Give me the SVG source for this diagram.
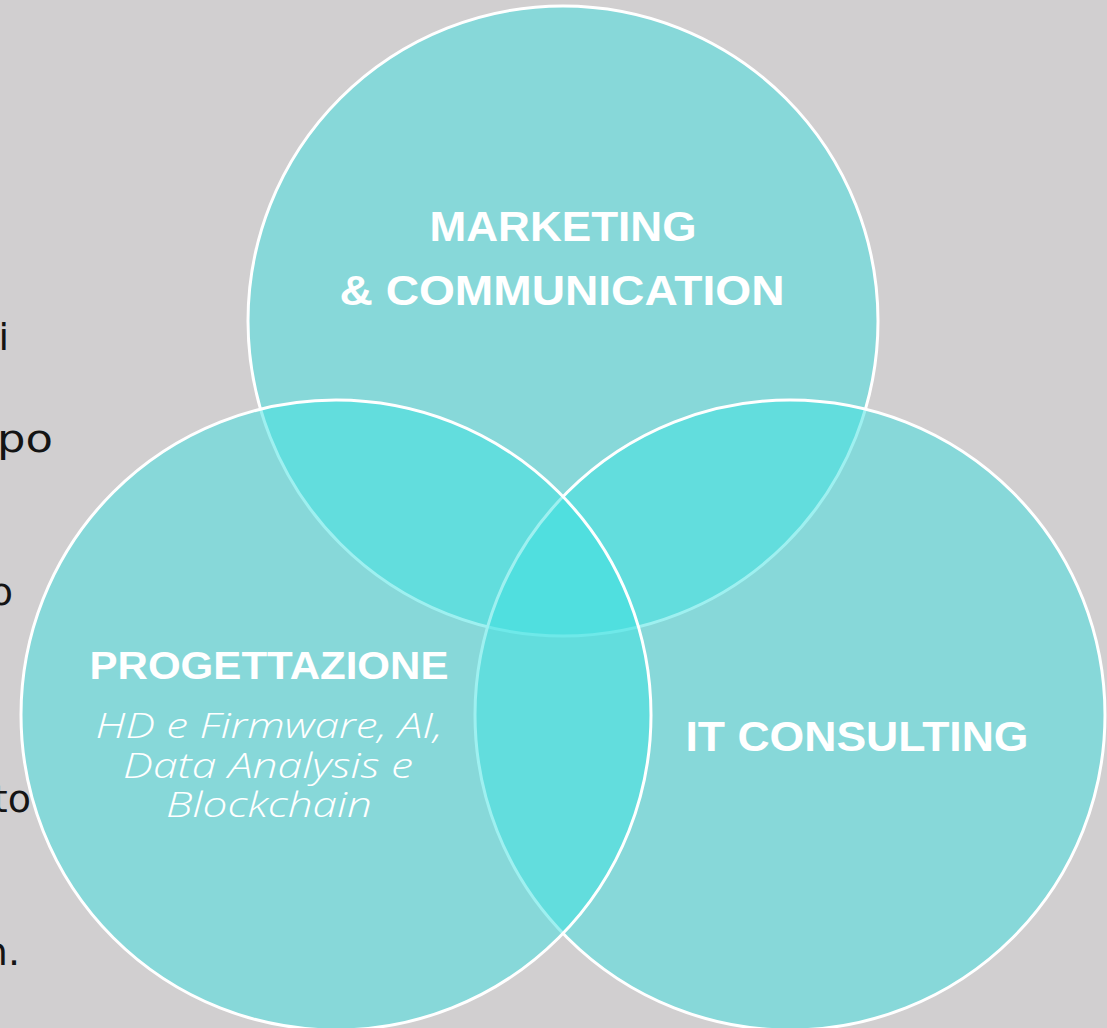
<svg xmlns="http://www.w3.org/2000/svg" width="1107" height="1028" viewBox="0 0 1107 1028">
  <style>
    .frag { font-family: "DejaVu Sans", "Liberation Sans", sans-serif; font-size: 38px; fill: #141414; text-anchor: end; }
    .circle { fill: #3ee1e2; fill-opacity: 0.5; stroke: #ffffff; stroke-width: 3; }
    .title { font-family: "Liberation Sans", "DejaVu Sans", sans-serif; font-weight: bold; fill: #ffffff; text-anchor: middle; }
    .sub { font-family: "Open Sans", "Liberation Sans", sans-serif; font-style: italic; font-weight: 300; font-size: 34px; fill: #ffffff; text-anchor: middle; }
  </style>
  <rect x="0" y="0" width="1107" height="1028" fill="#d1cfd0"/>
  <g id="left-text">
    <text class="frag" x="9" y="350">i</text>
    <text class="frag" x="53" y="452" textLength="56" lengthAdjust="spacingAndGlyphs">po</text>
    <text class="frag" x="13" y="605">o</text>
    <text class="frag" x="31" y="812">to</text>
    <text class="frag" x="20" y="965">n.</text>
  </g>
  <g id="marketing">
    <circle class="circle" cx="563" cy="321" r="315"/>
  </g>
  <g id="it-consulting">
    <circle class="circle" cx="790" cy="715" r="315"/>
  </g>
  <g id="progettazione">
    <circle class="circle" cx="336" cy="715" r="315"/>
  </g>
  <g id="connectors"></g>
  <g id="labels">
    <text class="title" x="563" y="241" font-size="42" textLength="267" lengthAdjust="spacingAndGlyphs">MARKETING</text>
    <text class="title" x="562" y="305" font-size="42" textLength="445" lengthAdjust="spacingAndGlyphs">&amp; COMMUNICATION</text>
    <text class="title" x="857" y="751" font-size="42" textLength="343" lengthAdjust="spacingAndGlyphs">IT CONSULTING</text>
    <text class="title" x="269" y="679" font-size="38.5" textLength="359" lengthAdjust="spacingAndGlyphs">PROGETTAZIONE</text>
    <text class="sub" x="269" y="738" textLength="347" lengthAdjust="spacingAndGlyphs">HD e Firmware, AI,</text>
    <text class="sub" x="268" y="778" textLength="290" lengthAdjust="spacingAndGlyphs">Data Analysis e</text>
    <text class="sub" x="269" y="817" textLength="206" lengthAdjust="spacingAndGlyphs">Blockchain</text>
  </g>
</svg>
